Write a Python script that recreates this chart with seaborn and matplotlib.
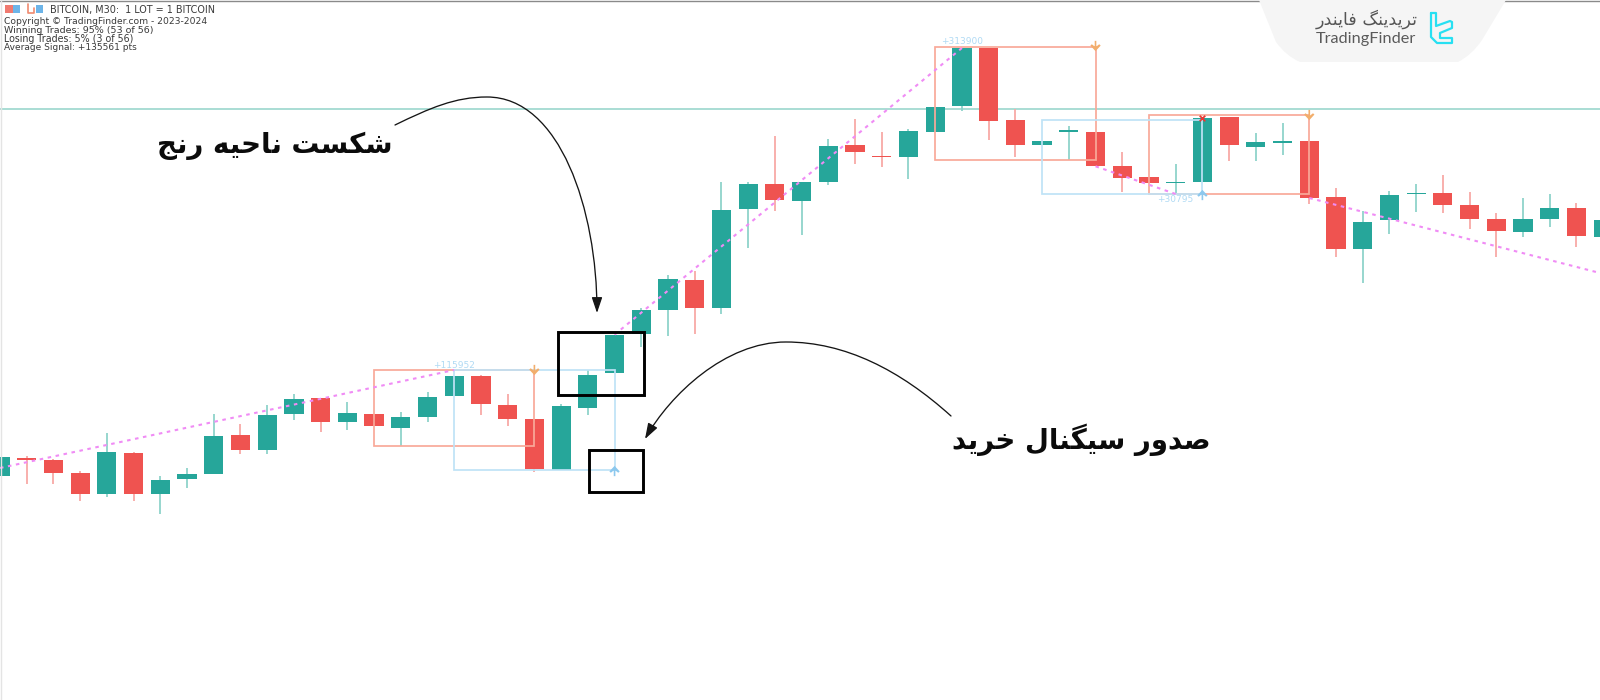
import matplotlib
matplotlib.use("Agg")
import matplotlib.pyplot as plt
import numpy as np
import seaborn as sns
from matplotlib.patches import Rectangle, PathPatch, FancyArrowPatch
from matplotlib.path import Path

# ---------- chart values ----------
body_top = [242.7,242.3,240.3,227,247.7,247.3,219.7,225.7,264.3,264.7,285.3,301,302.3,286.7,286,283,303.3,324,324.3,295.3,
            281,293.7,325.3,365.3,390,421,419.7,490.3,516.3,516.3,518,554,555.3,544,569,593.3,652,652,580.3,558.7,
            570,568,534,522.7,518.3,582.3,582.7,557.7,559.3,559.3,503.3,478.3,505,506.7,507,495,481.3,480.7,492,492,480]
body_bot = [224,239.7,227,206.3,206.3,206.3,206.3,221,225.7,250.3,250.3,285.7,278,278,274,272.3,283,304,295.7,281,
            230.7,229.7,292.3,326.7,366.3,389.7,392.3,392.3,491,500,499,517.7,548.3,542.7,543,568,594,579,554.7,554.7,
            567.7,533.7,522.3,517.3,516.7,518.3,554.7,552.7,557,502,451,450.7,479.7,506,495,481,469,468,480.7,463.7,462.7]
wick_high = [242.7,243.7,241,229,266.7,248.3,223.7,231.7,285.7,276,295,306,302.3,298.3,286,288,307.7,324,325,306,
             281,296,330,365.3,392,424.7,428.7,518.3,518.3,564,518,560.7,581.3,568,571,593.3,652,652,591,558.7,
             574.3,568,547.7,522.7,536,582.3,582.7,566.7,576.7,559.3,511.7,489,509.3,516,525.3,507.7,487.3,502.3,506.3,497.3,480]
wick_low = [224,215.7,216.3,199,202.7,199,185.7,211.7,225.7,246,246.3,279.7,268,270,274,254.3,278.3,304,285.3,274.3,
            227.7,229.7,285,326.7,353.3,364,365.7,386.3,452.3,488.7,465,514.7,535.7,533.3,521.3,568,589.3,560,543,554.7,
            539.7,533.7,508.3,517.3,506,518.3,538.7,538.7,544.7,496,442.7,417.3,465.7,488,487,471,442.7,463.3,473.3,453.3,462.7]
bullish = [1,0,0,0,1,0,1,1,1,0,1,1,0,1,0,1,1,1,0,0,
           0,1,1,1,1,1,0,1,1,0,1,1,0,0,1,1,1,0,0,1,
           1,0,0,0,1,1,0,1,1,0,0,1,1,1,0,0,0,1,1,0,1]

level_price = 591
zig_bar = [0, 17, 23, 36, 41, 44, 49, 59.88]
zig_price = [232, 330, 365.3, 652, 533.7, 506, 502, 427]
zig_breaks = [2, 4, 6, 8]
sell_ranges = [(14, 20, 254.3, 330), (35, 41, 540, 653.3), (43, 49, 506, 585)]
buy_ranges = [(17, 23, 229.7, 330), (39, 45, 506, 579.7)]
signal_labels = ["+115952", "+313900", "+30795"]
signal_bar = [17, 36, 44]
signal_price = [335, 658.3, 501]
down_bar = [20, 41, 49]
down_price = [330, 654, 585]
up_bar = [23, 45]
up_price = [229, 505]
header_lines = ["Copyright © TradingFinder.com - 2023-2024", "Winning Trades: 95% (53 of 56)",
                "Losing Trades: 5% (3 of 56)", "Average Signal: +135561 pts"]
title_line = "BITCOIN, M30:  1 LOT = 1 BITCOIN"
note_break = "شکست ناحیه رنج"
note_signal = "صدور سیگنال خرید"
logo_fa = "تریدینگ فایندر"
logo_en = "TradingFinder"

TEAL, RED = "#26A69A", "#EF5350"
TEAL_W, RED_W = "#8FD3CA", "#F8A9A6"

# ---------- Persian shaping (matplotlib has no text shaper) ----------
FORMS = {"ا":(0xFE8D,0xFE8E),"د":(0xFEA9,0xFEAA),"ر":(0xFEAD,0xFEAE),"و":(0xFEED,0xFEEE),
         "ت":(0xFE95,0xFE96,0xFE97,0xFE98),"ج":(0xFE9D,0xFE9E,0xFE9F,0xFEA0),"ح":(0xFEA1,0xFEA2,0xFEA3,0xFEA4),
         "خ":(0xFEA5,0xFEA6,0xFEA7,0xFEA8),"س":(0xFEB1,0xFEB2,0xFEB3,0xFEB4),"ش":(0xFEB5,0xFEB6,0xFEB7,0xFEB8),
         "ص":(0xFEB9,0xFEBA,0xFEBB,0xFEBC),"ف":(0xFED1,0xFED2,0xFED3,0xFED4),"ل":(0xFEDD,0xFEDE,0xFEDF,0xFEE0),
         "ن":(0xFEE5,0xFEE6,0xFEE7,0xFEE8),"ه":(0xFEE9,0xFEEA,0xFEEB,0xFEEC),"ک":(0xFB8E,0xFB8F,0xFB90,0xFB91),
         "گ":(0xFB92,0xFB93,0xFB94,0xFB95),"ی":(0xFBFC,0xFBFD,0xFBFE,0xFBFF)}

def shape(s):
    out = []
    for k, c in enumerate(s):
        if c not in FORMS:
            out.append(c)
            continue
        prev = s[k-1] if k else " "
        nxt = s[k+1] if k + 1 < len(s) else " "
        join_prev = prev in FORMS and len(FORMS[prev]) == 4
        join_next = nxt in FORMS and len(FORMS[c]) == 4
        idx = 3 if join_prev and join_next else 1 if join_prev else 2 if join_next else 0
        out.append(chr(FORMS[c][idx]))
    return "".join(reversed(out))

# ---------- figure ----------
sns.set_theme(style="white")
plt.rcParams["font.family"] = ["DejaVu Sans"]
fig = plt.figure(figsize=(16, 7), dpi=100, facecolor="white")
ax = fig.add_axes([0, 0, 1, 1])

bars = np.arange(len(body_top))
top, bot, hi, lo, up = map(np.array, (body_top, body_bot, wick_high, wick_low, bullish))
up = up.astype(bool)

ax.axhline(level_price, color="#A9DDD4", lw=1.4, zorder=1)
ax.vlines(bars[up], lo[up], hi[up], color=TEAL_W, lw=1.3, zorder=2)
ax.vlines(bars[~up], lo[~up], hi[~up], color=RED_W, lw=1.3, zorder=2)
for mask, col in ((up, TEAL), (~up, RED)):
    sns.barplot(x=bars[mask], y=(top - bot)[mask], bottom=bot[mask], native_scale=True, orient="x",
                color=col, saturation=1, width=0.72, errorbar=None, linewidth=0, zorder=3, ax=ax)

for x0, x1, y0, y1 in sell_ranges:
    ax.add_patch(Rectangle((x0, y0), x1 - x0, y1 - y0, fill=False, ec="#F9A999", lw=1.25, zorder=4))
for x0, x1, y0, y1 in buy_ranges:
    ax.add_patch(Rectangle((x0, y0), x1 - x0, y1 - y0, fill=False, ec="#BFE3F6", lw=1.25, zorder=4))

start = 0
for stop in zig_breaks:
    sns.lineplot(x=zig_bar[start:stop], y=zig_price[start:stop], sort=False, estimator=None, color="#F08CF5",
                 lw=1.5, linestyle=(0, (1.7, 2.2)), zorder=5, ax=ax)
    start = stop

down_arrow = Path([(-.16, 1), (.16, 1), (.16, -.1), (.72, .34), (1, .08), (0, -1), (-1, .08), (-.72, .34), (-.16, -.1), (-.16, 1)], closed=True)
up_arrow = Path([(-.16, -1), (.16, -1), (.16, .1), (.72, -.34), (1, -.08), (0, 1), (-1, -.08), (-.72, -.34), (-.16, .1), (-.16, -1)], closed=True)
sns.scatterplot(x=down_bar, y=down_price, marker=down_arrow, s=55, color="#F2AE6C", edgecolor="none", zorder=6, ax=ax)
sns.scatterplot(x=up_bar, y=up_price, marker=up_arrow, s=55, color="#8CC8EE", edgecolor="none", zorder=6, ax=ax)
sns.scatterplot(x=[45], y=[582.5], marker="x", s=16, color="#E53935", linewidth=1.3, zorder=6, ax=ax)
for lab, b, p in zip(signal_labels, signal_bar, signal_price):
    ax.text(b, p, lab, fontsize=6.5, color="#B0DAF4", ha="center", va="center", zorder=6)

ax.set_xlim(0, 1600 / 26.72)
ax.set_ylim(0, 700)
ax.set_xlabel("")
ax.set_ylabel("")
ax.set_xticks([])
ax.set_yticks([])
for s in ax.spines.values():
    s.set_visible(False)

# ---------- overlay in pixel space ----------
ov = fig.add_axes([0, 0, 1, 1], facecolor="none")
ov.set_xlim(0, 1600)
ov.set_ylim(700, 0)
ov.axis("off")

ov.plot([0, 1600], [0.6, 0.6], color="#8A8A8A", lw=1.0, zorder=1)
ov.plot([0.8, 0.8], [0, 700], color="#E4E4E4", lw=1.0, zorder=1)
ov.add_patch(PathPatch(Path([(1259, 0), (1506, 0), (1482, 40), (1472, 55), (1458, 62), (1300, 62), (1286, 56), (1276, 42), (1259, 0)],
                            [1, 2, 2, 3, 3, 2, 3, 3, 2]), fc="#F5F5F5", ec="none", zorder=2))

# black call-out boxes
for x0, x1, y0, y1 in [(557.5, 643.5, 331.5, 394.5), (588.5, 643, 449.5, 492)]:
    ov.add_patch(Rectangle((x0, y0), x1 - x0, y1 - y0, fill=False, ec="black", lw=2.1, joinstyle="miter", zorder=5))

# curved arrows
arrow1 = Path([(395, 125), (430, 108), (455, 97), (487, 97), (560, 97), (597, 210), (597, 313)], [1, 4, 4, 4, 4, 4, 4])
arrow2 = Path([(951, 416), (900, 370), (845, 342), (786, 342), (725, 342), (670, 395), (645, 439)], [1, 4, 4, 4, 4, 4, 4])
for p in (arrow1, arrow2):
    ov.add_patch(FancyArrowPatch(path=p, arrowstyle="-|>,head_length=9.5,head_width=3.2", color="#151515", lw=0.95,
                                 mutation_scale=1, shrinkA=0, shrinkB=0, zorder=5))

def fit(txt, x0, x1, yc, size, **kw):
    t = ov.text((x0 + x1) / 2, yc, txt, fontsize=size, ha="center", va="center", **kw)
    w = t.get_window_extent(fig.canvas.get_renderer()).width
    t.set_fontsize(size * (x1 - x0) / w)
    return t

fit(shape(note_break), 156, 393, 146, 24, fontweight="bold", color="#0B0B0B", zorder=6)
fit(shape(note_signal), 951, 1211, 440, 24, fontweight="bold", color="#0B0B0B", zorder=6)
fit(shape(logo_fa), 1316, 1417, 19, 11, color="#555555", zorder=6)
fit(logo_en, 1316, 1416, 39, 11, color="#5A5A5A", family=["Lato"], zorder=6)

# logo glyph
glyph_x = [1431, 1436, 1436, 1450, 1452, 1452, 1440, 1440, 1452, 1452, 1437, 1431, 1431]
glyph_y = [13, 13, 26, 21, 22, 28, 33, 38, 38, 43, 43, 37, 13]
ov.plot(glyph_x, glyph_y, color="#27E0F2", lw=1.6, solid_joinstyle="round", zorder=6)

# terminal header
fit(title_line, 49, 215, 10, 7, color="#3A3A3A", zorder=6)
for yc, line, x1 in zip((21.5, 30.5, 39.5, 48), header_lines, (207, 154, 134, 137)):
    fit(line, 4, x1, yc, 7, color="#3A3A3A", zorder=6)
for x0, w, c in [(5, 8, "#F07A70"), (13, 7, "#6CB4E8")]:
    ov.add_patch(Rectangle((x0, 5), w, 8, fc=c, ec="none", zorder=6))
ov.plot([28, 28, 34, 34], [4, 13, 13, 8], color="#F08A70", lw=1.2, zorder=6)
ov.add_patch(Rectangle((36, 5), 7, 8, fc="#6CB4E8", ec="none", zorder=6))

fig.savefig("out.png", dpi=100, facecolor="white")
